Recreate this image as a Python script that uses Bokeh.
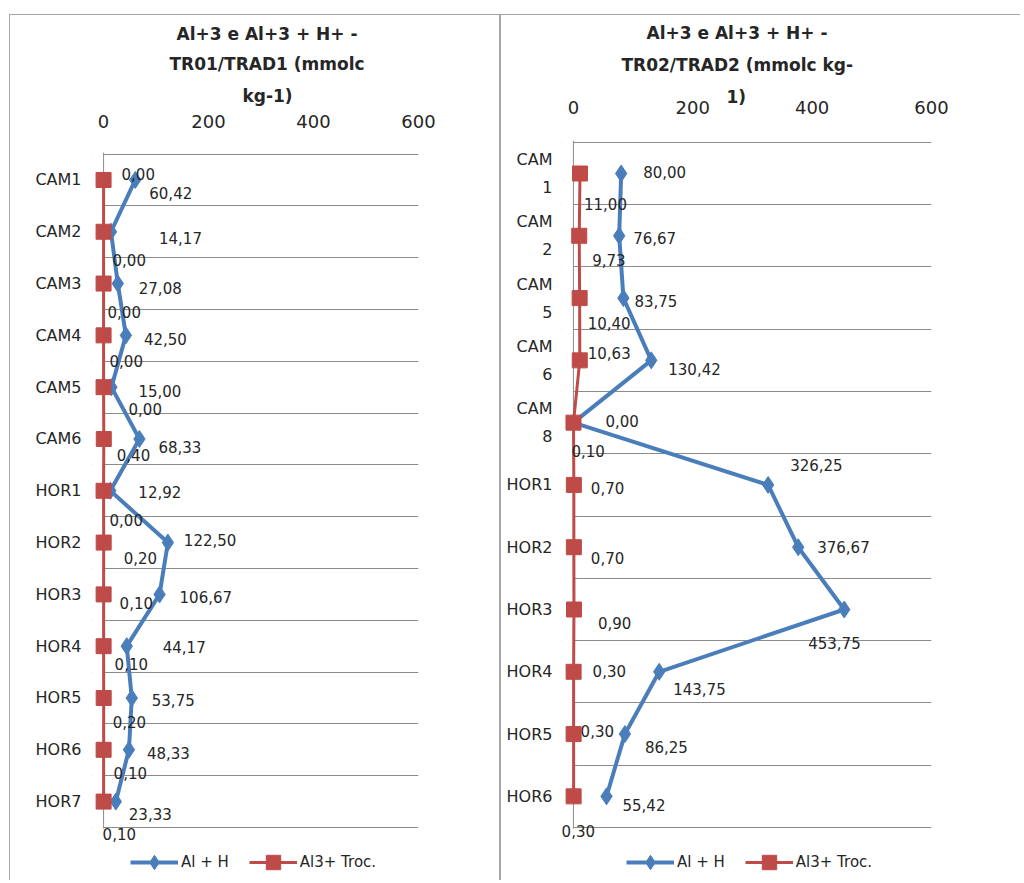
from bokeh.plotting import figure
from bokeh.layouts import row
from bokeh.models import (Range1d, FixedTicker, ColumnDataSource, LabelSet,
                          Legend, LegendItem, Span, BoxAnnotation, Title)
from bokeh.core.properties import value
from bokeh.embed import file_html
from bokeh.resources import INLINE

# Perfil TR01/TRAD1
cat_tr01 = ["CAM1", "CAM2", "CAM3", "CAM4", "CAM5", "CAM6", "HOR1",
            "HOR2", "HOR3", "HOR4", "HOR5", "HOR6", "HOR7"]
alh_tr01 = [60.42, 14.17, 27.08, 42.50, 15.00, 68.33, 12.92,
            122.50, 106.67, 44.17, 53.75, 48.33, 23.33]
al3_tr01 = [0.00, 0.00, 0.00, 0.00, 0.00, 0.40, 0.00,
            0.20, 0.10, 0.10, 0.20, 0.10, 0.10]

# Perfil TR02/TRAD2
cat_tr02 = ["CAM\n1", "CAM\n2", "CAM\n5", "CAM\n6", "CAM\n8", "HOR1",
            "HOR2", "HOR3", "HOR4", "HOR5", "HOR6"]
alh_tr02 = [80.00, 76.67, 83.75, 130.42, 0.00, 326.25,
            376.67, 453.75, 143.75, 86.25, 55.42]
al3_tr02 = [11.00, 9.73, 10.40, 10.63, 0.10, 0.70,
            0.70, 0.90, 0.30, 0.30, 0.30]

x_ticks = [0, 200, 400, 600]
series_names = ["Al + H", "Al3+ Troc."]
title_tr01 = ["Al+3 e Al+3 + H+  -", "TR01/TRAD1  (mmolc", "kg-1)"]
title_tr02 = ["Al+3 e Al+3 + H+  -", "TR02/TRAD2  (mmolc kg-", "1)"]

# label nudges in pixels (dx to the right, dy downwards)
nudge_alh_tr01 = [(14, 13), (48, 6), (21, 4), (18, 4), (27, 4), (19, 8), (28, 1),
                  (16, -3), (20, 3), (36, 1), (20, 2), (18, 3), (13, 12)]
nudge_al3_tr01 = [(18, -6), (9, 28), (4, 28), (6, 26), (25, 22), (13, 16), (6, 29),
                  (20, 15), (16, 9), (11, 18), (9, 24), (10, 23), (-1, 32)]
nudge_alh_tr02 = [(22, -2), (14, 2), (11, 3), (17, 9), (32, -2), (22, -20),
                  (19, 0), (-36, 33), (14, 17), (20, 13), (16, 9)]
nudge_al3_tr02 = [(4, 30), (13, 24), (8, 25), (8, -7), (-2, 28), (17, 3),
                  (17, 11), (24, 13), (19, -1), (7, -3), (-12, 35)]

BLUE = "#4A7EBB"
RED = "#BE4B48"
GRID = "#8C8C8C"
BORDER = "#A6A6A6"
TEXT = "#262626"
FONT = "DejaVu Sans"

CANVAS_H = 866      # drawing height of each panel
RULES_GAP = 54      # room under the last rule for the legend


def fmt(v):
    return f"{v:.2f}".replace(".", ",")


def build_panel(title_lines, cats, alh, al3, nudge_alh, nudge_al3, *, width,
                x_start, min_left, min_right, min_top, cat_standoff,
                tick_standoff, title_standoffs, title_offsets, legend_x,
                border_styles, margin):
    n = len(cats)
    ypos = [i + 0.5 for i in range(n)]
    src = ColumnDataSource(dict(
        y=ypos, alh=alh, al3=al3,
        alh_txt=[fmt(v) for v in alh], al3_txt=[fmt(v) for v in al3],
        alh_dx=[d[0] for d in nudge_alh], alh_dy=[-d[1] for d in nudge_alh],
        al3_dx=[d[0] for d in nudge_al3], al3_dy=[-d[1] for d in nudge_al3],
    ))

    # the frame reaches the bottom edge so the legend and low labels stay visible
    pad_top = 0.03
    rules_px = CANVAS_H - min_top - RULES_GAP
    pad_bottom = RULES_GAP * (n + pad_top) / rules_px

    p = figure(width=width, height=CANVAS_H, title=None,
               x_range=Range1d(x_start, 600),
               y_range=Range1d(n + pad_bottom, -pad_top),
               x_axis_location="above", output_backend="svg",
               toolbar_location=None, min_border_left=min_left,
               min_border_right=min_right, min_border_top=min_top,
               min_border_bottom=0, margin=margin, styles=border_styles,
               frame_align=False)
    p.outline_line_color = None
    p.background_fill_color = "white"
    p.border_fill_color = "white"

    xa = p.xaxis[0]
    xa.ticker = FixedTicker(ticks=x_ticks)
    xa.axis_line_color = None
    xa.major_tick_line_color = None
    xa.minor_tick_line_color = None
    xa.major_label_standoff = tick_standoff
    xa.major_label_text_font = FONT
    xa.major_label_text_font_size = "18px"
    xa.major_label_text_color = TEXT

    # title lines, stacked outwards from the value axis
    for text, standoff, offset in zip(reversed(title_lines),
                                      reversed(title_standoffs),
                                      reversed(title_offsets)):
        p.add_layout(Title(text=text, align="left", offset=offset,
                           text_font=FONT, text_font_size="17px",
                           text_font_style="bold", text_color=TEXT,
                           standoff=standoff), "above")

    ya = p.yaxis[0]
    ya.ticker = FixedTicker(ticks=ypos)
    ya.major_label_overrides = {ypos[i]: cats[i] for i in range(n)}
    ya.axis_line_color = None
    ya.major_tick_line_color = None
    ya.minor_tick_line_color = None
    ya.major_label_standoff = cat_standoff
    ya.major_label_text_font = FONT
    ya.major_label_text_font_size = "16px"
    ya.major_label_text_color = TEXT
    ya.major_label_text_line_height = 1.48

    p.xgrid.visible = False
    p.ygrid.ticker = FixedTicker(ticks=list(range(n + 1)))
    p.ygrid.grid_line_color = GRID
    p.ygrid.grid_line_width = 1

    # keep the horizontal rules starting at zero, with the value axis there
    p.add_layout(BoxAnnotation(right=0, fill_color="white", fill_alpha=1,
                               line_color=None, level="underlay"))
    p.add_layout(Span(location=0, dimension="height", line_color=GRID,
                      line_width=1, level="underlay"))
    p.add_layout(BoxAnnotation(top=n + 0.02, fill_color="white", fill_alpha=1,
                               line_color=None, level="underlay"))

    l_alh = p.line("alh", "y", source=src, line_color=BLUE, line_width=4)
    m_alh = p.scatter("alh", "y", source=src, marker="diamond", size=17,
                      fill_color=BLUE, line_color=BLUE)
    l_al3 = p.line("al3", "y", source=src, line_color=RED, line_width=3)
    m_al3 = p.scatter("al3", "y", source=src, marker="square", size=15,
                      fill_color=RED, line_color=RED)

    for col in ("alh", "al3"):
        p.add_layout(LabelSet(x=col, y="y", text=col + "_txt", source=src,
                              x_offset=dict(field=col + "_dx"),
                              y_offset=dict(field=col + "_dy"),
                              text_align="left", text_baseline="middle",
                              text_font=value(FONT), text_font_size="15px",
                              text_color=TEXT))

    legend = Legend(items=[LegendItem(label=series_names[0], renderers=[l_alh, m_alh]),
                           LegendItem(label=series_names[1], renderers=[l_al3, m_al3])],
                    orientation="horizontal", location=(legend_x, 1),
                    glyph_width=48, glyph_height=36, label_standoff=3,
                    spacing=20, padding=0, margin=0,
                    border_line_color=None, background_fill_alpha=0,
                    label_text_font=FONT, label_text_font_size="15px",
                    label_text_color=TEXT)
    p.add_layout(legend, "center")
    return p


line = f"1px solid {BORDER}"
p1 = build_panel(title_tr01, cat_tr01, alh_tr01, al3_tr01,
                 nudge_alh_tr01, nudge_al3_tr01,
                 width=491, x_start=-23, min_left=81, min_right=83,
                 min_top=137, cat_standoff=4, tick_standoff=19,
                 title_standoffs=[8, 9, 11], title_offsets=[85, 78, 151],
                 legend_x=39,
                 border_styles={"border-left": line, "border-top": line,
                                "border-right": line},
                 margin=(14, 0, 0, 9))
p2 = build_panel(title_tr02, cat_tr02, alh_tr02, al3_tr02,
                 nudge_alh_tr02, nudge_al3_tr02,
                 width=520, x_start=-20, min_left=60, min_right=90,
                 min_top=125, cat_standoff=3, tick_standoff=21,
                 title_standoffs=[-16, 37, -18], title_offsets=[85, 60, 165],
                 legend_x=65,
                 border_styles={"border-left": line, "border-top": line},
                 margin=(14, 0, 0, 0))

layout = row(p1, p2)
open("out.html", "w").write(file_html(layout, INLINE))
